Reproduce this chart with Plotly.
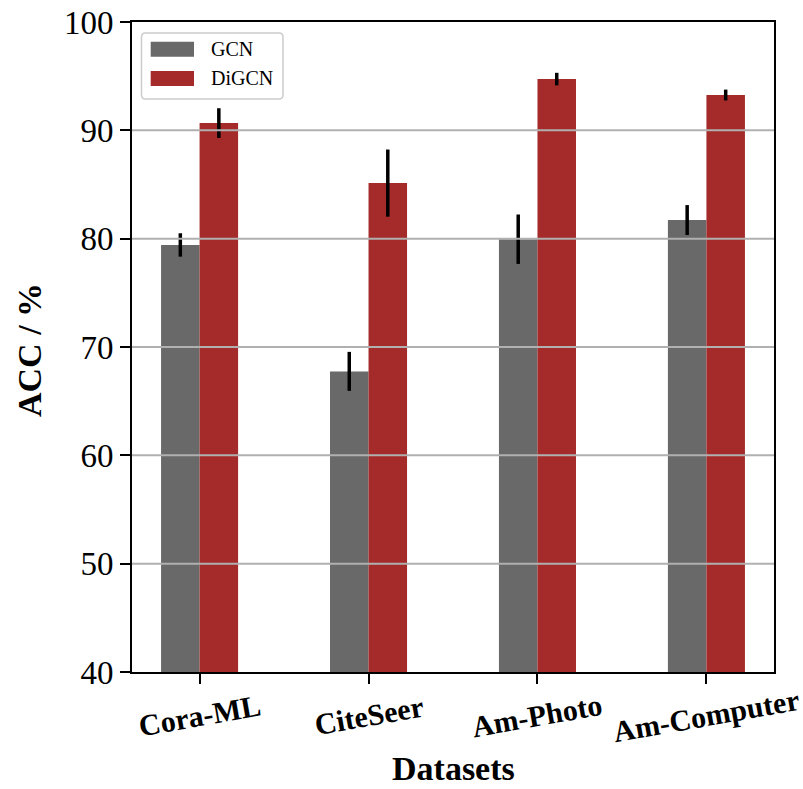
import plotly.graph_objects as go

# Node classification accuracy (%) with standard deviation
datasets = ["Cora-ML", "CiteSeer", "Am-Photo", "Am-Computer"]
gcn_acc = [79.42, 67.75, 79.95, 81.72]
gcn_std = [1.08, 1.8, 2.28, 1.38]
digcn_acc = [90.67, 85.13, 94.73, 93.26]
digcn_std = [1.37, 3.1, 0.58, 0.5]
y_ticks = [40, 50, 60, 70, 80, 90, 100]

GCN_COLOR = "#696969"
DIGCN_COLOR = "#a52a2a"
FONT = "Liberation Serif"
BAR_W = 0.228

W, H = 803, 789
ML, MR, MT, MB = 132, 29, 22, 117
PW, PH = W - ML - MR, H - MT - MB


def px(x):
    return (x - ML) / PW


def py(y):
    return (H - MB - y) / PH


idx = list(range(len(datasets)))

fig = go.Figure()
fig.add_trace(go.Bar(
    x=idx, y=gcn_acc, width=BAR_W, offset=-BAR_W, name="GCN",
    marker=dict(color=GCN_COLOR, line=dict(width=0)),
    error_y=dict(type="data", array=gcn_std, color="black", thickness=3.5, width=0),
    showlegend=False,
))
fig.add_trace(go.Bar(
    x=idx, y=digcn_acc, width=BAR_W, offset=0, name="DiGCN",
    marker=dict(color=DIGCN_COLOR, line=dict(width=0)),
    error_y=dict(type="data", array=digcn_std, color="black", thickness=3.5, width=0),
    showlegend=False,
))

shapes = []
# horizontal grid drawn on top of the bars
for t in y_ticks[1:-1]:
    shapes.append(dict(type="line", xref="paper", yref="y", x0=0, x1=1, y0=t, y1=t,
                       line=dict(color="#b0b0b0", width=2), layer="above"))

# legend box
x0, x1, y0, y1, r = px(141.5), px(283), py(33), py(99), 4
rx, ry = r / PW, r / PH
path = (f"M{x0+rx},{y0} L{x1-rx},{y0} Q{x1},{y0} {x1},{y0-ry} "
        f"L{x1},{y1+ry} Q{x1},{y1} {x1-rx},{y1} L{x0+rx},{y1} "
        f"Q{x0},{y1} {x0},{y1+ry} L{x0},{y0-ry} Q{x0},{y0} {x0+rx},{y0} Z")
shapes.append(dict(type="path", xref="paper", yref="paper", path=path,
                   fillcolor="rgba(255,255,255,0.8)", line=dict(color="#cccccc", width=1.5),
                   layer="above"))
legend_items = [("GCN", GCN_COLOR, 41.7, 56.7), ("DiGCN", DIGCN_COLOR, 71, 86)]
annotations = []
for label, color, top, bot in legend_items:
    shapes.append(dict(type="rect", xref="paper", yref="paper",
                       x0=px(150.7), x1=px(194), y0=py(bot), y1=py(top),
                       fillcolor=color, line=dict(width=0), layer="above"))
    annotations.append(dict(xref="paper", yref="paper", x=px(209), y=py((top + bot) / 2),
                            text=label, showarrow=False, xanchor="left", yanchor="middle",
                            font=dict(family=FONT, size=20, color="black")))

# rotated category labels
for i, name in zip(idx, datasets):
    annotations.append(dict(xref="x", yref="paper", x=i, y=py(715), text=f"<b>{name}</b>",
                            showarrow=False, textangle=-10, xanchor="center", yanchor="middle",
                            font=dict(family=FONT, size=30, color="black")))

annotations.append(dict(xref="paper", yref="paper", x=0.5, y=py(788), text="<b>Datasets</b>",
                        showarrow=False, xanchor="center", yanchor="bottom", borderpad=0,
                        font=dict(family=FONT, size=34, color="black")))
annotations.append(dict(xref="paper", yref="paper", x=px(29), y=py(350), text="<b>ACC / %</b>",
                        showarrow=False, textangle=-90, xanchor="center", yanchor="middle",
                        font=dict(family=FONT, size=34, color="black")))

fig.update_layout(
    width=W, height=H,
    margin=dict(l=ML, r=MR, t=MT, b=MB),
    paper_bgcolor="white", plot_bgcolor="white",
    barmode="overlay",
    shapes=shapes, annotations=annotations,
    showlegend=False,
)
fig.update_xaxes(
    range=[-0.4, 3.4], tickvals=idx, showticklabels=False, automargin=False,
    ticks="outside", ticklen=10, tickwidth=2, tickcolor="black",
    showline=True, linecolor="black", linewidth=2, mirror=True,
    showgrid=False, zeroline=False,
)
fig.update_yaxes(
    range=[40, 100], tickvals=y_ticks, automargin=False,
    ticks="outside", ticklen=10, tickwidth=2, tickcolor="black",
    tickfont=dict(family=FONT, size=33, color="black"),
    showline=True, linecolor="black", linewidth=2, mirror=True,
    showgrid=False, zeroline=False,
)

fig.write_html("out.html")
